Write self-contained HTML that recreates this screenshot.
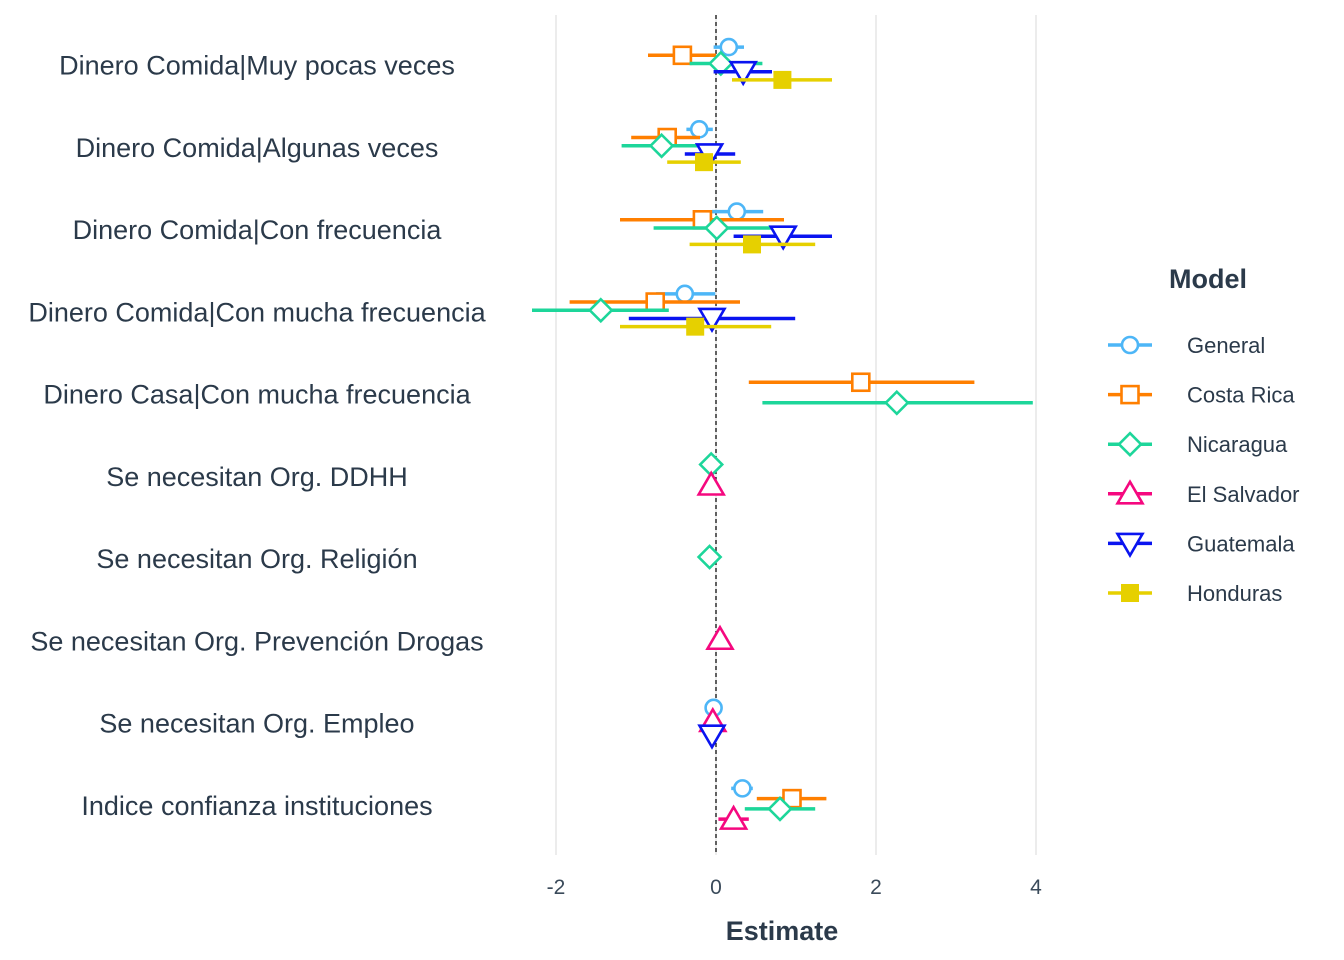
<!DOCTYPE html>
<html><head><meta charset="utf-8">
<style>
body{margin:0;background:#fff;}
svg{display:block;font-family:"Liberation Sans",sans-serif;}
</style></head><body>
<svg id="chart" width="1344" height="960">
<g id="grid"></g>
<g id="ylabels"></g>
<g id="marks"></g>
<g id="xticks"></g>
<text x="782" y="940" text-anchor="middle" font-size="27" font-weight="bold" fill="#2b3a4a">Estimate</text>
<g id="legend">
<text x="1208" y="288" text-anchor="middle" font-size="27" font-weight="bold" fill="#2b3a4a">Model</text>
</g>
</svg>
<script>
const categories = ["Dinero Comida|Muy pocas veces","Dinero Comida|Algunas veces","Dinero Comida|Con frecuencia","Dinero Comida|Con mucha frecuencia","Dinero Casa|Con mucha frecuencia","Se necesitan Org. DDHH","Se necesitan Org. Religión","Se necesitan Org. Prevención Drogas","Se necesitan Org. Empleo","Indice confianza instituciones"];
const models = ["General","Costa Rica","Nicaragua","El Salvador","Guatemala","Honduras"];
const xTicks = [-2,0,2,4];
const estGeneral   = [0.16,-0.21,0.26,-0.39,null,null,null,null,-0.03,0.33];
const loGeneral    = [-0.03,-0.37,-0.05,-0.75,null,null,null,null,-0.03,0.19];
const hiGeneral    = [0.35,-0.04,0.59,-0.01,null,null,null,null,-0.03,0.46];
const estCostaRica = [-0.42,-0.61,-0.17,-0.76,1.81,null,null,null,null,0.95];
const loCostaRica  = [-0.85,-1.06,-1.2,-1.83,0.41,null,null,null,null,0.51];
const hiCostaRica  = [0,-0.2,0.85,0.3,3.23,null,null,null,null,1.38];
const estNicaragua = [0.06,-0.68,0.01,-1.44,2.26,-0.06,-0.08,null,null,0.8];
const loNicaragua  = [-0.33,-1.18,-0.78,-2.3,0.58,-0.06,-0.08,null,null,0.36];
const hiNicaragua  = [0.58,-0.19,0.79,-0.59,3.96,-0.06,-0.08,null,null,1.24];
const estSalvador  = [null,null,null,null,null,-0.06,null,0.05,-0.04,0.22];
const loSalvador   = [null,null,null,null,null,-0.06,null,0.05,-0.04,0.03];
const hiSalvador   = [null,null,null,null,null,-0.06,null,0.05,-0.04,0.41];
const estGuatemala = [0.34,-0.08,0.84,-0.05,null,null,null,null,-0.05,null];
const loGuatemala  = [-0.03,-0.39,0.22,-1.09,null,null,null,null,-0.05,null];
const hiGuatemala  = [0.7,0.24,1.45,0.99,null,null,null,null,-0.05,null];
const estHonduras  = [0.83,-0.15,0.45,-0.26,null,null,null,null,null,null];
const loHonduras   = [0.2,-0.61,-0.33,-1.2,null,null,null,null,null,null];
const hiHonduras   = [1.45,0.31,1.24,0.69,null,null,null,null,null,null];

const est=[estGeneral,estCostaRica,estNicaragua,estSalvador,estGuatemala,estHonduras];
const lo=[loGeneral,loCostaRica,loNicaragua,loSalvador,loGuatemala,loHonduras];
const hi=[hiGeneral,hiCostaRica,hiNicaragua,hiSalvador,hiGuatemala,hiHonduras];
const colors=["#4db6f7","#ff7f00","#1dd69a","#f5087f","#0a14f0","#e6d000"];
const shapes=["circle","square","diamond","tri-up","tri-down","filled-square"];

const NS="http://www.w3.org/2000/svg";
const xs=v=>716+80*v;
const rowY=i=>63.5+82.25*i;
function el(tag,attrs,parent){const e=document.createElementNS(NS,tag);for(const k in attrs)e.setAttribute(k,attrs[k]);parent.appendChild(e);return e;}
const grid=document.getElementById('grid'),yl=document.getElementById('ylabels'),marks=document.getElementById('marks'),xt=document.getElementById('xticks'),leg=document.getElementById('legend');

function shape(s,cx,cy,c,parent,name){
  let e;
  if(s==="circle") e=el('circle',{cx:cx,cy:cy,r:8,fill:'#fff',stroke:c,'stroke-width':2.6},parent);
  else if(s==="square") e=el('rect',{x:cx-8.5,y:cy-8.5,width:17,height:17,fill:'#fff',stroke:c,'stroke-width':2.6},parent);
  else if(s==="filled-square") e=el('rect',{x:cx-9,y:cy-9,width:18,height:18,fill:c},parent);
  else if(s==="diamond") e=el('polygon',{points:`${cx},${cy-11} ${cx+11},${cy} ${cx},${cy+11} ${cx-11},${cy}`,fill:'#fff',stroke:c,'stroke-width':2.6},parent);
  else if(s==="tri-up") e=el('polygon',{points:`${cx},${cy-12} ${cx+12.5},${cy+9.5} ${cx-12.5},${cy+9.5}`,fill:'#fff',stroke:c,'stroke-width':2.6},parent);
  else e=el('polygon',{points:`${cx-12.5},${cy-9.5} ${cx+12.5},${cy-9.5} ${cx},${cy+12}`,fill:'#fff',stroke:c,'stroke-width':2.6},parent);
  
  
  return e;
}

xTicks.forEach(t=>{
  const g=el('line',{x1:xs(t),x2:xs(t),y1:15,y2:855,stroke:'#e6e6e6','stroke-width':1.5},grid);
  
  
  const tx=el('text',{x:xs(t),y:894,'text-anchor':'middle','font-size':21,fill:'#3a4a5a'},xt);
  tx.textContent=t;
  
  
});
const zl=el('line',{x1:xs(0),x2:xs(0),y1:15,y2:855,stroke:'#000','stroke-width':1.2,'stroke-dasharray':'4,3'},grid);



categories.forEach((c,i)=>{
  const t=el('text',{x:257,y:rowY(i)+11,'text-anchor':'middle','font-size':27,fill:'#2b3a4a'},yl);
  t.textContent=c;
  
  
  const present=[];models.forEach((m,j)=>{if(est[j][i]!==null)present.push(j);});
  const n=present.length,w=41/n;
  present.forEach((j,k)=>{
    const y=rowY(i)-20.5+w*(k+0.5);
    const ln=el('line',{x1:xs(lo[j][i]),x2:xs(hi[j][i]),y1:y,y2:y,stroke:colors[j],'stroke-width':3.5},marks);
    
    
    shape(shapes[j],xs(est[j][i]),y,colors[j],marks,'point-'+models[j].toLowerCase().replace(' ','-'));
  });
});

models.forEach((m,j)=>{
  const y=345+49.6*j;
  const ln=el('line',{x1:1108,x2:1152,y1:y,y2:y,stroke:colors[j],'stroke-width':3.5},leg);
  
  
  shape(shapes[j],1130,y,colors[j],leg,'legend-key-symbol');
  const t=el('text',{x:1187,y:y+8,'font-size':22,fill:'#2b3a4a'},leg);
  t.textContent=m;
  
  
});
</script>
</body></html>
